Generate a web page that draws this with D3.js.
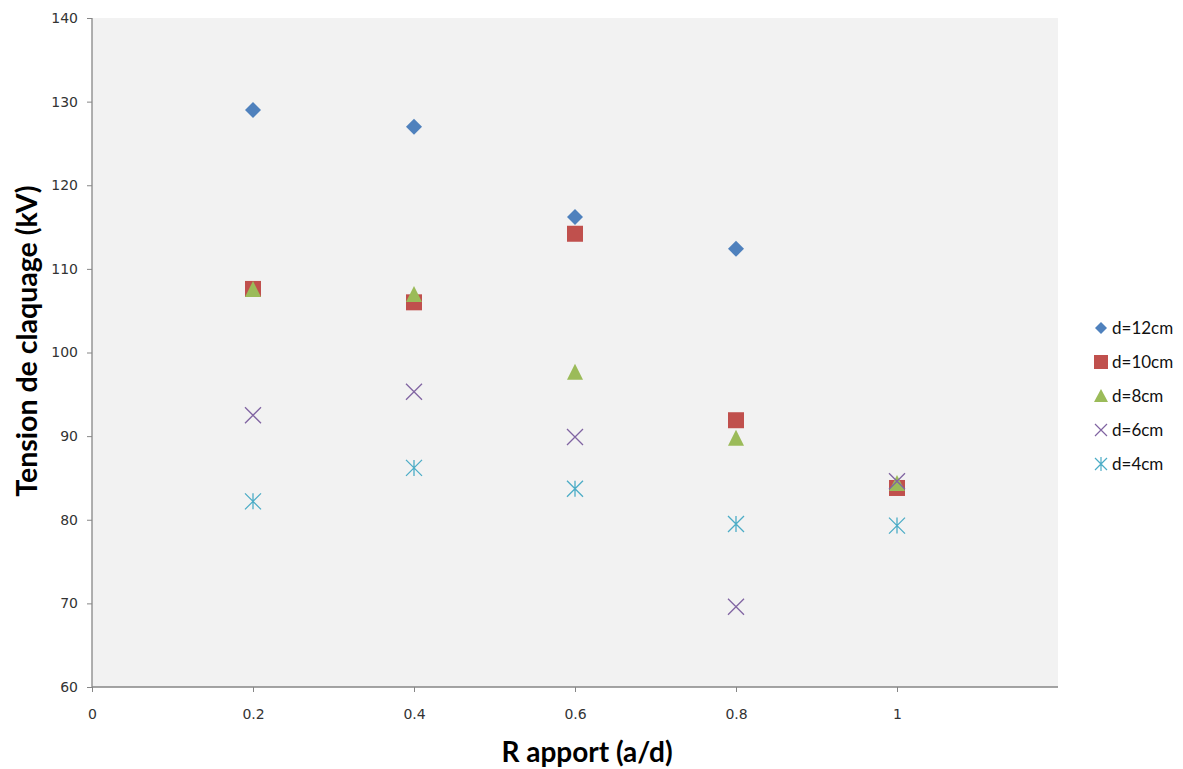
<!DOCTYPE html>
<html>
<head>
<meta charset="utf-8">
<script src="https://cdn.jsdelivr.net/npm/d3@7"></script>
<style>
  html, body { margin: 0; padding: 0; background: #fff; }
  svg { display: block; }
  .tick text { font-family: 'DejaVu Sans', Verdana, sans-serif; font-size: 14px; fill: #333; }
</style>
</head>
<body>
<svg id="chart" width="1183" height="769"></svg>
<script>
// Breakdown voltage versus a/d ratio, for several gap distances d
const ratios = [0.2, 0.4, 0.6, 0.8, 1.0];
const seriesNames = ["d=12cm", "d=10cm", "d=8cm", "d=6cm", "d=4cm"];
const d12 = [129.0, 127.0, 116.2, 112.4, null];
const d10 = [107.6, 106.0, 114.2, 91.9, 83.8];
const d8  = [107.6, 107.0, 97.7, 89.8, 84.4];
const d6  = [92.5, 95.3, 89.9, 69.6, 84.6];
const d4  = [82.2, 86.2, 83.7, 79.5, 79.3];
const xTicks = [0, 0.2, 0.4, 0.6, 0.8, 1];
const yTicks = [60, 70, 80, 90, 100, 110, 120, 130, 140];

const seriesValues = [d12, d10, d8, d6, d4];
const colors = ["#4F81BD", "#C0504D", "#9BBB59", "#8064A2", "#4BACC6"];
const shapes = ["diamond", "square", "triangle", "x", "star"];

const svg = d3.select("#chart");
const plot = { left: 92, right: 1058, top: 18, bottom: 687 };

const x = d3.scaleLinear().domain([0, 1.2]).range([plot.left, plot.right]);
const y = d3.scaleLinear().domain([60, 140]).range([plot.bottom, plot.top]);

// plot area background
svg.append("rect")
  .attr("x", plot.left).attr("y", plot.top)
  .attr("width", plot.right - plot.left).attr("height", plot.bottom - plot.top)
  .attr("fill", "#f2f2f2");

// axes
const axisColor = "#868686";

const yAxis = svg.append("g")
  .attr("transform", `translate(${plot.left},0)`)
  .call(d3.axisLeft(y).tickValues(yTicks).tickSize(5).tickPadding(9).tickFormat(d3.format("d")));
yAxis.select(".domain").attr("stroke", axisColor).attr("stroke-width", 1.3).attr("d", `M0,${plot.top}V${plot.bottom}`);
yAxis.selectAll(".tick line").attr("stroke", axisColor);
yAxis.selectAll(".tick text").attr("fill", null);

const xAxis = svg.append("g")
  .attr("transform", `translate(0,${plot.bottom})`)
  .call(d3.axisBottom(x).tickValues(xTicks).tickSize(5).tickPadding(17).tickFormat(d => d === 0 ? "0" : d3.format("")(d)));
xAxis.select(".domain").attr("stroke", axisColor).attr("stroke-width", 1.3).attr("d", `M${plot.left},0H${plot.right}`);
xAxis.selectAll(".tick line").attr("stroke", axisColor);
xAxis.selectAll(".tick text").attr("fill", null);

// marker drawing
function drawMarker(g, shape, color, cx, cy) {
  const s = 8;
  if (shape === "diamond") {
    g.append("path").attr("d", `M${cx},${cy - s}L${cx + s},${cy}L${cx},${cy + s}L${cx - s},${cy}Z`).attr("fill", color);
  } else if (shape === "square") {
    g.append("rect").attr("x", cx - s).attr("y", cy - s).attr("width", 2 * s).attr("height", 2 * s).attr("fill", color);
  } else if (shape === "triangle") {
    g.append("path").attr("d", `M${cx},${cy - s}L${cx + s},${cy + s}L${cx - s},${cy + s}Z`).attr("fill", color);
  } else if (shape === "x") {
    g.append("path").attr("d", `M${cx - s},${cy - s}L${cx + s},${cy + s}M${cx - s},${cy + s}L${cx + s},${cy - s}`)
      .attr("stroke", color).attr("stroke-width", 1.3).attr("fill", "none");
  } else if (shape === "star") {
    g.append("path").attr("d", `M${cx - s},${cy - s}L${cx + s},${cy + s}M${cx - s},${cy + s}L${cx + s},${cy - s}M${cx},${cy - s}L${cx},${cy + s}`)
      .attr("stroke", color).attr("stroke-width", 1.3).attr("fill", "none");
  }
}

const marks = svg.append("g");
seriesValues.forEach((vals, i) => {
  const g = marks.append("g").attr("class", "series");
  vals.forEach((v, j) => {
    if (v == null) return;
    drawMarker(g, shapes[i], colors[i], x(ratios[j]), y(v));
  });
});

// legend
const legend = svg.append("g");
seriesNames.forEach((name, i) => {
  const cy = 328 + i * 34;
  const g = legend.append("g");
  const lx = 1101;
  if (shapes[i] === "diamond") {
    g.append("path").attr("d", `M${lx},${cy - 6}L${lx + 6},${cy}L${lx},${cy + 6}L${lx - 6},${cy}Z`).attr("fill", colors[i]);
  } else if (shapes[i] === "square") {
    g.append("rect").attr("x", lx - 7).attr("y", cy - 7).attr("width", 14).attr("height", 14).attr("fill", colors[i]);
  } else if (shapes[i] === "triangle") {
    g.append("path").attr("d", `M${lx},${cy - 7}L${lx + 7},${cy + 6}L${lx - 7},${cy + 6}Z`).attr("fill", colors[i]);
  } else if (shapes[i] === "x") {
    g.append("path").attr("d", `M${lx - 6},${cy - 6}L${lx + 6},${cy + 6}M${lx - 6},${cy + 6}L${lx + 6},${cy - 6}`)
      .attr("stroke", colors[i]).attr("stroke-width", 1.2);
  } else {
    g.append("path").attr("d", `M${lx - 6},${cy - 6}L${lx + 6},${cy + 6}M${lx - 6},${cy + 6}L${lx + 6},${cy - 6}M${lx},${cy - 7}L${lx},${cy + 7}`)
      .attr("stroke", colors[i]).attr("stroke-width", 1.2);
  }
  g.append("text")
    .attr("x", 1112).attr("y", cy)
    .attr("dy", "0.35em")
    .attr("fill", "#111")
    .style("font-family", "Lato, 'Open Sans', sans-serif")
    .style("font-size", "17px")
    .text(name);
});

// axis titles
svg.append("text")
  .attr("transform", `translate(37,341) rotate(-90)`)
  .attr("text-anchor", "middle")
  .style("font-family", "Lato, 'Open Sans', sans-serif")
  .style("font-weight", "bold")
  .style("font-size", "28.5px")
  .attr("fill", "#000")
  .text("Tension de claquage (kV)");

svg.append("text")
  .attr("x", 587).attr("y", 762)
  .attr("text-anchor", "middle")
  .style("font-family", "Lato, 'Open Sans', sans-serif")
  .style("font-weight", "bold")
  .style("font-size", "28px")
  .attr("fill", "#000")
  .text("R apport (a/d)");
</script>
</body>
</html>
